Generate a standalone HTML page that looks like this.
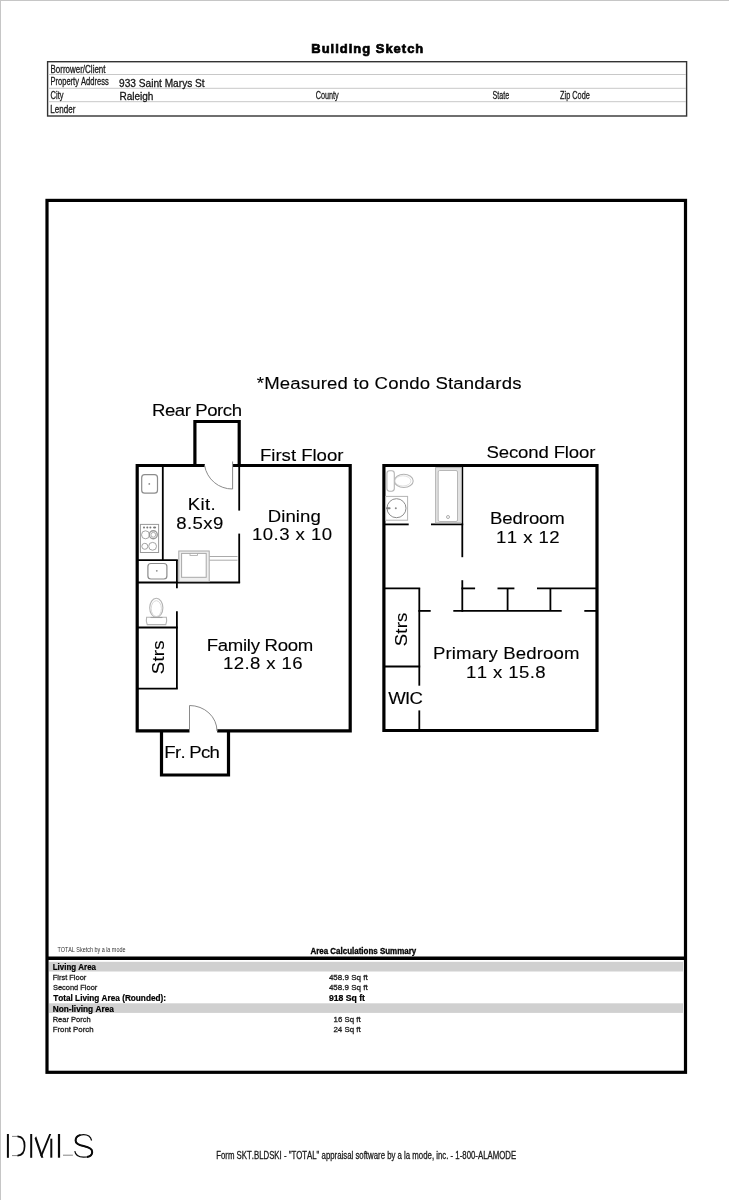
<!DOCTYPE html>
<html><head><meta charset="utf-8"><style>
html,body{margin:0;padding:0;background:#fff;}
body{width:729px;height:1200px;overflow:hidden;}
svg{display:block;will-change:transform;}
text{font-family:"Liberation Sans",sans-serif;font-kerning:none;}
</style></head><body>
<svg width="729" height="1200" viewBox="0 0 729 1200">
<rect x="0" y="0" width="729" height="1" fill="#c6c6c6"/>
<rect x="0" y="0" width="1" height="1200" fill="#c6c6c6"/>
<text transform="translate(311.33,52.80) scale(0.97,1)" x="0" y="0" font-size="13.37" letter-spacing="1.035" font-weight="bold" fill="#000" stroke="#000" stroke-width="0.7">Building Sketch</text>
<rect x="47.6" y="61.7" width="639" height="54.3" fill="none" stroke="#333" stroke-width="1.4"/>
<line x1="48.3" y1="74.5" x2="686" y2="74.5" stroke="#c8c8c8" stroke-width="1" stroke-linecap="butt"/>
<line x1="48.3" y1="88.3" x2="686" y2="88.3" stroke="#c8c8c8" stroke-width="1" stroke-linecap="butt"/>
<line x1="48.3" y1="101.7" x2="686" y2="101.7" stroke="#c8c8c8" stroke-width="1" stroke-linecap="butt"/>
<text x="50.44" y="72.80" font-size="10.17" textLength="55.11" lengthAdjust="spacingAndGlyphs" fill="#1a1a1a" stroke="#1a1a1a" stroke-width="0.3">Borrower/Client</text>
<text x="50.48" y="85.20" font-size="10.17" textLength="58.29" lengthAdjust="spacingAndGlyphs" fill="#1a1a1a" stroke="#1a1a1a" stroke-width="0.3">Property Address</text>
<text x="50.62" y="98.50" font-size="10.17" textLength="12.89" lengthAdjust="spacingAndGlyphs" fill="#1a1a1a" stroke="#1a1a1a" stroke-width="0.3">City</text>
<text x="50.34" y="113.20" font-size="10.17" textLength="24.99" lengthAdjust="spacingAndGlyphs" fill="#1a1a1a" stroke="#1a1a1a" stroke-width="0.3">Lender</text>
<text x="119.02" y="86.80" font-size="11.19" textLength="85.65" lengthAdjust="spacingAndGlyphs" fill="#111" stroke="#1a1a1a" stroke-width="0.3">933 Saint Marys St</text>
<text x="119.38" y="100.10" font-size="10.90" textLength="34.08" lengthAdjust="spacingAndGlyphs" fill="#111" stroke="#1a1a1a" stroke-width="0.3">Raleigh</text>
<text x="315.63" y="98.80" font-size="10.90" textLength="23.08" lengthAdjust="spacingAndGlyphs" fill="#1a1a1a" stroke="#1a1a1a" stroke-width="0.3">County</text>
<text x="492.48" y="98.80" font-size="10.90" textLength="16.64" lengthAdjust="spacingAndGlyphs" fill="#1a1a1a" stroke="#1a1a1a" stroke-width="0.3">State</text>
<text x="560.07" y="98.80" font-size="10.90" textLength="29.76" lengthAdjust="spacingAndGlyphs" fill="#1a1a1a" stroke="#1a1a1a" stroke-width="0.3">Zip Code</text>
<rect x="47.0" y="200.4" width="638.5" height="871.9" fill="none" stroke="#000" stroke-width="3.2"/>
<text transform="translate(256.75,389.15) scale(1.1,1)" x="0" y="0" font-size="16.90" letter-spacing="0.153" fill="#000" stroke="#000" stroke-width="0.12">*Measured to Condo Standards</text>
<text transform="translate(151.93,415.65) scale(1.1,1)" x="0" y="0" font-size="16.90" letter-spacing="-0.393" fill="#000" stroke="#000" stroke-width="0.12">Rear Porch</text>
<text transform="translate(260.03,460.85) scale(1.1,1)" x="0" y="0" font-size="16.90" letter-spacing="-0.020" fill="#000" stroke="#000" stroke-width="0.12">First Floor</text>
<text transform="translate(486.51,457.85) scale(1.1,1)" x="0" y="0" font-size="16.90" letter-spacing="-0.134" fill="#000" stroke="#000" stroke-width="0.12">Second Floor</text>
<text transform="translate(187.73,509.85) scale(1.1,1)" x="0" y="0" font-size="16.90" letter-spacing="0.352" fill="#000" stroke="#000" stroke-width="0.12">Kit.</text>
<text transform="translate(176.34,528.85) scale(1.1,1)" x="0" y="0" font-size="16.90" letter-spacing="0.344" fill="#000" stroke="#000" stroke-width="0.12">8.5x9</text>
<text transform="translate(267.73,521.55) scale(1.1,1)" x="0" y="0" font-size="16.90" letter-spacing="0.077" fill="#000" stroke="#000" stroke-width="0.12">Dining</text>
<text transform="translate(252.03,539.65) scale(1.1,1)" x="0" y="0" font-size="16.90" letter-spacing="0.404" fill="#000" stroke="#000" stroke-width="0.12">10.3 x 10</text>
<text transform="translate(206.73,650.65) scale(1.1,1)" x="0" y="0" font-size="16.90" letter-spacing="-0.258" fill="#000" stroke="#000" stroke-width="0.12">Family Room</text>
<text transform="translate(222.93,669.45) scale(1.1,1)" x="0" y="0" font-size="16.90" letter-spacing="0.369" fill="#000" stroke="#000" stroke-width="0.12">12.8 x 16</text>
<text transform="translate(163.65,673.70) rotate(-90) translate(-0.49,0) scale(1.1,1)" x="0" y="0" font-size="16.90" letter-spacing="0.232" fill="#000" stroke="#000" stroke-width="0.12">Strs</text>
<text transform="translate(164.33,757.85) scale(1.1,1)" x="0" y="0" font-size="16.90" letter-spacing="-0.663" fill="#000" stroke="#000" stroke-width="0.12">Fr. Pch</text>
<text transform="translate(490.03,524.35) scale(1.1,1)" x="0" y="0" font-size="16.90" letter-spacing="-0.088" fill="#000" stroke="#000" stroke-width="0.12">Bedroom</text>
<text transform="translate(496.03,542.95) scale(1.1,1)" x="0" y="0" font-size="16.90" letter-spacing="0.389" fill="#000" stroke="#000" stroke-width="0.12">11 x 12</text>
<text transform="translate(407.45,645.70) rotate(-90) translate(-0.49,0) scale(1.1,1)" x="0" y="0" font-size="16.90" letter-spacing="0.141" fill="#000" stroke="#000" stroke-width="0.12">Strs</text>
<text transform="translate(433.03,658.65) scale(1.1,1)" x="0" y="0" font-size="16.90" letter-spacing="0.118" fill="#000" stroke="#000" stroke-width="0.12">Primary Bedroom</text>
<text transform="translate(466.03,677.85) scale(1.1,1)" x="0" y="0" font-size="16.90" letter-spacing="0.368" fill="#000" stroke="#000" stroke-width="0.12">11 x 15.8</text>
<text transform="translate(388.17,703.95) scale(1.1,1)" x="0" y="0" font-size="16.90" letter-spacing="-0.612" fill="#000" stroke="#000" stroke-width="0.12">WIC</text>
<path d="M204.8 465.5 H137.2 V730.9 H189.5" stroke="#000" stroke-width="3.2" fill="none" stroke-linejoin="miter" stroke-linecap="butt"/>
<path d="M217.2 730.9 H350.2 V465.5 H232.8" stroke="#000" stroke-width="3.2" fill="none" stroke-linejoin="miter" stroke-linecap="butt"/>
<path d="M194.9 465.5 V421.5 H239.2 V465.5" stroke="#000" stroke-width="3.2" fill="none" stroke-linejoin="miter" stroke-linecap="butt"/>
<path d="M161.5 730.9 V775 H228.5 V730.9" stroke="#000" stroke-width="3.2" fill="none" stroke-linejoin="miter" stroke-linecap="butt"/>
<line x1="162.8" y1="465.5" x2="162.8" y2="560.1" stroke="#000" stroke-width="1.8" stroke-linecap="butt"/>
<line x1="239.2" y1="465.5" x2="239.2" y2="510.6" stroke="#000" stroke-width="1.8" stroke-linecap="butt"/>
<line x1="239.2" y1="533.6" x2="239.2" y2="583.0" stroke="#000" stroke-width="1.8" stroke-linecap="butt"/>
<line x1="137.2" y1="560.1" x2="177.8" y2="560.1" stroke="#000" stroke-width="1.8" stroke-linecap="butt"/>
<line x1="176.9" y1="560.1" x2="176.9" y2="588.2" stroke="#000" stroke-width="1.8" stroke-linecap="butt"/>
<line x1="176.9" y1="611.3" x2="176.9" y2="688.6" stroke="#000" stroke-width="1.8" stroke-linecap="butt"/>
<line x1="137.2" y1="582.5" x2="240.1" y2="582.5" stroke="#000" stroke-width="1.8" stroke-linecap="butt"/>
<line x1="137.2" y1="627.5" x2="177.8" y2="627.5" stroke="#000" stroke-width="1.8" stroke-linecap="butt"/>
<line x1="137.2" y1="688.6" x2="177.8" y2="688.6" stroke="#000" stroke-width="1.8" stroke-linecap="butt"/>
<path d="M204.6 465.5 A28 28 0 0 0 232.6 489 V461.5" stroke="#8a8a8a" stroke-width="1" fill="none" stroke-linejoin="miter" stroke-linecap="butt"/>
<path d="M189.5 731 V705.5 A27.5 25.5 0 0 1 217 731" stroke="#8a8a8a" stroke-width="1" fill="none" stroke-linejoin="miter" stroke-linecap="butt"/>
<path d="M383.9 465.5 H597 V730.5 H383.9 Z" stroke="#000" stroke-width="3.2" fill="none" stroke-linejoin="miter" stroke-linecap="butt"/>
<line x1="462.3" y1="465.5" x2="462.3" y2="557.2" stroke="#000" stroke-width="1.8" stroke-linecap="butt"/>
<line x1="462.3" y1="580.2" x2="462.3" y2="611.8" stroke="#000" stroke-width="1.8" stroke-linecap="butt"/>
<line x1="383.9" y1="524.4" x2="408.7" y2="524.4" stroke="#000" stroke-width="1.8" stroke-linecap="butt"/>
<line x1="431.0" y1="524.4" x2="463.2" y2="524.4" stroke="#000" stroke-width="1.8" stroke-linecap="butt"/>
<line x1="383.9" y1="588.4" x2="420.2" y2="588.4" stroke="#000" stroke-width="1.8" stroke-linecap="butt"/>
<line x1="419.3" y1="588.4" x2="419.3" y2="685.7" stroke="#000" stroke-width="1.8" stroke-linecap="butt"/>
<line x1="419.3" y1="710.4" x2="419.3" y2="730.5" stroke="#000" stroke-width="1.8" stroke-linecap="butt"/>
<line x1="383.9" y1="666.5" x2="420.2" y2="666.5" stroke="#000" stroke-width="1.8" stroke-linecap="butt"/>
<line x1="461.4" y1="588.4" x2="475.1" y2="588.4" stroke="#000" stroke-width="1.8" stroke-linecap="butt"/>
<line x1="497.5" y1="588.4" x2="514.4" y2="588.4" stroke="#000" stroke-width="1.8" stroke-linecap="butt"/>
<line x1="537.0" y1="588.4" x2="597" y2="588.4" stroke="#000" stroke-width="1.8" stroke-linecap="butt"/>
<line x1="418.4" y1="610.9" x2="430.7" y2="610.9" stroke="#000" stroke-width="1.8" stroke-linecap="butt"/>
<line x1="453.3" y1="610.9" x2="561.7" y2="610.9" stroke="#000" stroke-width="1.8" stroke-linecap="butt"/>
<line x1="584.3" y1="610.9" x2="597" y2="610.9" stroke="#000" stroke-width="1.8" stroke-linecap="butt"/>
<line x1="507.6" y1="588.4" x2="507.6" y2="610.9" stroke="#000" stroke-width="1.8" stroke-linecap="butt"/>
<line x1="550.4" y1="588.4" x2="550.4" y2="610.9" stroke="#000" stroke-width="1.8" stroke-linecap="butt"/>
<rect x="141.7" y="474.7" width="15.8" height="18.5" rx="3" ry="3" fill="none" stroke="#8c8c8c" stroke-width="1.2"/>
<circle cx="149.3" cy="483.9" r="0.9" fill="#8c8c8c"/>
<rect x="140.4" y="524.4" width="18.2" height="28.1" fill="none" stroke="#9a9a9a" stroke-width="1"/>
<circle cx="144.0" cy="527.5" r="1" fill="#777"/>
<circle cx="147.3" cy="527.5" r="1" fill="#777"/>
<circle cx="150.4" cy="527.5" r="1" fill="#777"/>
<ellipse cx="154.6" cy="527.5" rx="1.6" ry="1" fill="#777"/>
<circle cx="145.5" cy="534.8" r="4" fill="none" stroke="#9a9a9a" stroke-width="0.9"/>
<circle cx="153.3" cy="534.8" r="4" fill="none" stroke="#9a9a9a" stroke-width="1.4"/>
<circle cx="153.3" cy="534.8" r="2.4" fill="none" stroke="#9a9a9a" stroke-width="0.8"/>
<circle cx="144.8" cy="546.3" r="3" fill="none" stroke="#9a9a9a" stroke-width="0.9"/>
<circle cx="152.6" cy="546.3" r="3.9" fill="none" stroke="#9a9a9a" stroke-width="0.9"/>
<rect x="147.9" y="563.5" width="19" height="15.5" rx="3" ry="3" fill="none" stroke="#8c8c8c" stroke-width="1.2"/>
<circle cx="156.8" cy="570.8" r="0.9" fill="#8c8c8c"/>
<rect x="178.8" y="551" width="30.4" height="30.6" fill="#efefef" stroke="#a8a8a8" stroke-width="1"/>
<rect x="181.6" y="553.4" width="24.6" height="23.9" fill="#fff" stroke="#a8a8a8" stroke-width="1"/>
<rect x="190" y="553.4" width="7.5" height="2" fill="#fff" stroke="#a8a8a8" stroke-width="0.8"/>
<line x1="209.5" y1="556.5" x2="237.5" y2="556.5" stroke="#a0a0a0" stroke-width="0.9" stroke-linecap="butt"/>
<line x1="209.5" y1="560.2" x2="237.5" y2="560.2" stroke="#a0a0a0" stroke-width="0.9" stroke-linecap="butt"/>
<ellipse cx="156.3" cy="607.8" rx="6.6" ry="9.5" fill="none" stroke="#b4b4b4" stroke-width="1.1"/>
<ellipse cx="156.3" cy="608.6" rx="5.1" ry="7.9" fill="none" stroke="#cfcfcf" stroke-width="0.8"/>
<path d="M146.6 617.3 H166.4 C167 620 166.8 622.5 165.8 624.6 H147.2 C146.2 622.5 146 620 146.6 617.3 Z" fill="#fff" stroke="#b4b4b4" stroke-width="1.1"/>
<line x1="150.5" y1="617.5" x2="162.5" y2="617.5" stroke="#a0a0a0" stroke-width="1.1" stroke-linecap="butt"/>
<rect x="386.9" y="470.8" width="7.4" height="20.4" rx="2.6" fill="#fff" stroke="#b4b4b4" stroke-width="1.1"/>
<ellipse cx="403.8" cy="480.9" rx="9.4" ry="6.6" fill="none" stroke="#b4b4b4" stroke-width="1.1"/>
<ellipse cx="402.9" cy="480.9" rx="8" ry="5.1" fill="none" stroke="#d2d2d2" stroke-width="0.7"/>
<rect x="385.6" y="496.4" width="22" height="23.8" fill="none" stroke="#b4b4b4" stroke-width="1"/>
<circle cx="396.5" cy="508.2" r="9.5" fill="none" stroke="#8c8c8c" stroke-width="1"/>
<rect x="386" y="507.2" width="4.6" height="2" rx="1" fill="#888"/>
<circle cx="395.8" cy="508.2" r="1" fill="#888"/>
<rect x="435.6" y="467.6" width="25.8" height="55.2" fill="#e2e2e2" stroke="#b0b0b0" stroke-width="0.9"/>
<rect x="438.2" y="470.5" width="19.3" height="51" rx="1.5" fill="#fff" stroke="#b0b0b0" stroke-width="0.9"/>
<circle cx="448" cy="517" r="1.5" fill="none" stroke="#999" stroke-width="0.8"/>
<text x="57.38" y="951.90" font-size="6.69" textLength="68.06" lengthAdjust="spacingAndGlyphs" fill="#333">TOTAL Sketch by a la mode</text>
<text x="310.40" y="953.80" font-size="8.29" textLength="105.84" lengthAdjust="spacingAndGlyphs" fill="#000" font-weight="bold" stroke="#000" stroke-width="0.3">Area Calculations Summary</text>
<line x1="47" y1="958.2" x2="685.5" y2="958.2" stroke="#000" stroke-width="3.4" stroke-linecap="butt"/>
<rect x="49" y="961.8" width="634" height="9.7" fill="#d0d0d0"/>
<rect x="49" y="1003.3" width="634" height="9.6" fill="#d0d0d0"/>
<text x="52.77" y="969.50" font-size="8.30" textLength="43.28" lengthAdjust="spacingAndGlyphs" fill="#000" font-weight="bold" stroke="#000" stroke-width="0.22">Living Area</text>
<text x="52.69" y="980.00" font-size="7.90" textLength="33.64" lengthAdjust="spacingAndGlyphs" fill="#1e1e1e" stroke="#1e1e1e" stroke-width="0.3">First Floor</text>
<text x="52.96" y="990.10" font-size="7.90" textLength="44.36" lengthAdjust="spacingAndGlyphs" fill="#1e1e1e" stroke="#1e1e1e" stroke-width="0.3">Second Floor</text>
<text x="53.21" y="1000.60" font-size="8.30" textLength="112.78" lengthAdjust="spacingAndGlyphs" fill="#000" font-weight="bold" stroke="#000" stroke-width="0.22">Total Living Area (Rounded):</text>
<text x="52.75" y="1011.60" font-size="8.30" textLength="61.10" lengthAdjust="spacingAndGlyphs" fill="#000" font-weight="bold" stroke="#000" stroke-width="0.22">Non-living Area</text>
<text x="52.68" y="1021.70" font-size="7.90" textLength="38.11" lengthAdjust="spacingAndGlyphs" fill="#1e1e1e" stroke="#1e1e1e" stroke-width="0.3">Rear Porch</text>
<text x="52.66" y="1032.10" font-size="7.90" textLength="40.95" lengthAdjust="spacingAndGlyphs" fill="#1e1e1e" stroke="#1e1e1e" stroke-width="0.3">Front Porch</text>
<text x="328.92" y="980.00" font-size="7.90" textLength="38.74" lengthAdjust="spacingAndGlyphs" fill="#1e1e1e" stroke="#1e1e1e" stroke-width="0.3">458.9 Sq ft</text>
<text x="328.92" y="989.90" font-size="7.90" textLength="38.74" lengthAdjust="spacingAndGlyphs" fill="#1e1e1e" stroke="#1e1e1e" stroke-width="0.3">458.9 Sq ft</text>
<text x="328.90" y="1000.60" font-size="8.30" textLength="36.11" lengthAdjust="spacingAndGlyphs" fill="#000" font-weight="bold" stroke="#000" stroke-width="0.22">918 Sq ft</text>
<text x="333.60" y="1021.50" font-size="7.90" textLength="27.16" lengthAdjust="spacingAndGlyphs" fill="#1e1e1e" stroke="#1e1e1e" stroke-width="0.3">16 Sq ft</text>
<text x="333.40" y="1031.60" font-size="7.90" textLength="27.36" lengthAdjust="spacingAndGlyphs" fill="#1e1e1e" stroke="#1e1e1e" stroke-width="0.3">24 Sq ft</text>
<text x="216.16" y="1158.60" font-size="10.61" textLength="299.98" lengthAdjust="spacingAndGlyphs" fill="#1a1a1a" stroke="#1a1a1a" stroke-width="0.3">Form SKT.BLDSKI - &quot;TOTAL&quot; appraisal software by a la mode, inc. - 1-800-ALAMODE</text>
<rect x="6.9" y="1134" width="2.0" height="23.8" fill="#0a0a0a"/>
<path d="M12 1136.4 H18" stroke="#777" stroke-width="0.9" fill="none"/>
<path d="M12 1155.6 H18" stroke="#777" stroke-width="0.9" fill="none"/>
<path d="M17.5 1136.4 C22.5 1136.6 24.6 1140.8 24.6 1146 C24.6 1151.2 22.5 1155.4 17.5 1155.6" stroke="#0a0a0a" stroke-width="1.7" fill="none"/>
<rect x="30.2" y="1134" width="2.0" height="23.8" fill="#0a0a0a"/>
<path d="M34.6 1138.2 L41.2 1157.8 L43.4 1157.8 L36.2 1136.2 Z" fill="#0a0a0a"/>
<path d="M40.2 1156 L49.2 1134 L51.2 1134 L42.2 1156 Z" fill="#0a0a0a"/>
<rect x="50.3" y="1138.7" width="2.0" height="19.0" fill="#0a0a0a"/>
<rect x="57.9" y="1134" width="2.2" height="23.7" fill="#0a0a0a"/>
<path d="M63 1155.2 H72.9" stroke="#777" stroke-width="0.9" fill="none"/>
<path d="M91.6 1140.5 C90.6 1136.3 87.2 1134.6 83.5 1134.6 C78.6 1134.6 75.6 1137.2 75.6 1140.4 C75.6 1144.2 79.2 1145.2 83.6 1146.1 C88.6 1147.1 92.2 1148.7 92.2 1151.9 C92.2 1155.4 88.5 1157.2 83.5 1157.2 C78.6 1157.2 75.4 1155 74.8 1151.2" stroke="#0a0a0a" stroke-width="1.2" fill="none"/>
<path d="M80.5 1134.9 C77.6 1135.6 75.6 1137.7 75.6 1140.4 C75.6 1144.2 79.2 1145.2 83.6 1146.1 C88.6 1147.1 92.2 1148.7 92.2 1151.9 C92.2 1154.6 90.2 1156.4 87 1157" stroke="#0a0a0a" stroke-width="2.0" fill="none"/>
</svg>
</body></html>
